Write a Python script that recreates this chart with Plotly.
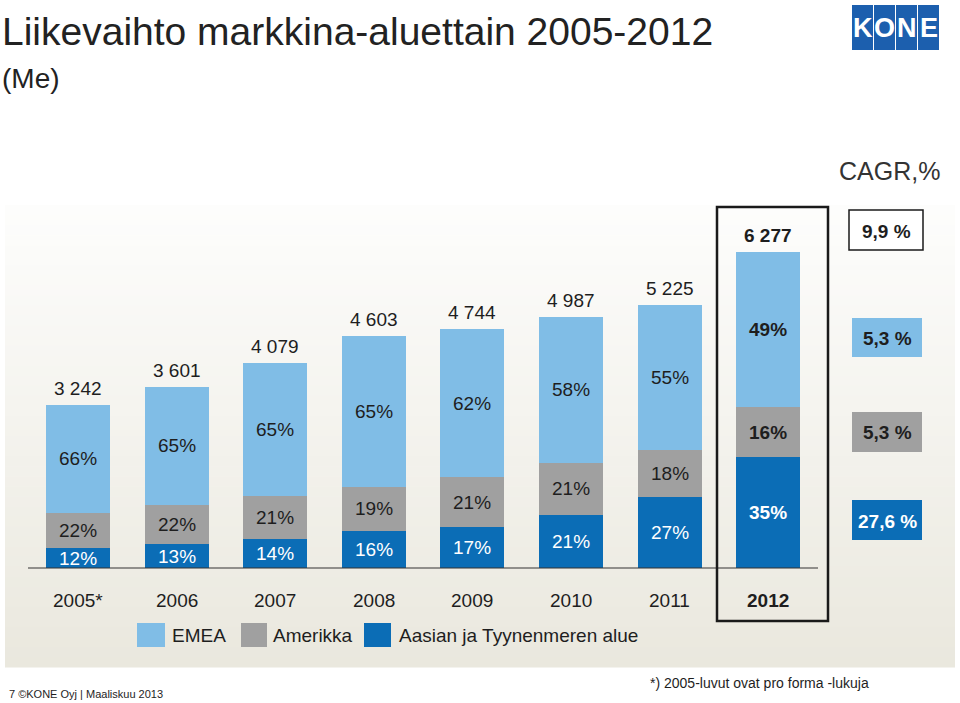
import plotly.graph_objects as go

# ---------------- data ----------------
years = ["2005*", "2006", "2007", "2008", "2009", "2010", "2011", "2012"]
totals = [3242, 3601, 4079, 4603, 4744, 4987, 5225, 6277]
emea_pct = [66, 65, 65, 65, 62, 58, 55, 49]
americas_pct = [22, 22, 21, 19, 21, 21, 18, 16]
apac_pct = [12, 13, 14, 16, 17, 21, 27, 35]
series_names = ["EMEA", "Amerikka", "Aasian ja Tyynenmeren alue"]
cagr_total = "9,9 %"
cagr_labels = ["5,3 %", "5,3 %", "27,6 %"]  # EMEA, Amerikka, Aasia

# ---------------- styles ----------------
W, H = 960, 703
C_EMEA = "#80bde6"
C_AM = "#a0a0a0"
C_AP = "#0b6db6"
TXT = "#1e1e1e"
FONT = "Liberation Sans, Arial, sans-serif"


def px(x):
    return x / W


def py(y):
    return 1 - y / H


def ptext(x, y, text, size, color=TXT, xanchor="center", bold=False):
    return dict(x=px(x), y=py(y), xref="paper", yref="paper", text=text, showarrow=False,
                xanchor=xanchor, yanchor="middle",
                font=dict(family=FONT, size=size, color=color, weight="bold" if bold else "normal"))


x_idx = list(range(len(years)))
apac = [t * p / 100 for t, p in zip(totals, apac_pct)]
am = [t * p / 100 for t, p in zip(totals, americas_pct)]
emea = [t * p / 100 for t, p in zip(totals, emea_pct)]

fig = go.Figure()
bar_w = 0.65
for vals, col, name in [(apac, C_AP, series_names[2]), (am, C_AM, series_names[1]), (emea, C_EMEA, series_names[0])]:
    fig.add_trace(go.Bar(x=x_idx, y=vals, marker=dict(color=col, line=dict(width=0)),
                         width=bar_w, name=name, showlegend=False, hoverinfo="skip"))

annotations = []
shapes = []

# background gradient panel
top, bot = 205, 667
n = 46
c0 = (253, 253, 252)
c1 = (234, 232, 222)
for i in range(n):
    t = i / (n - 1)
    col = tuple(int(round(c0[k] + (c1[k] - c0[k]) * t)) for k in range(3))
    y0 = top + (bot - top) * i / n
    y1 = top + (bot - top) * (i + 1) / n + 0.6
    shapes.append(dict(type="rect", xref="paper", yref="paper", x0=px(5), x1=px(955),
                       y0=py(y1), y1=py(y0), fillcolor="rgb(%d,%d,%d)" % col,
                       line=dict(width=0), layer="below"))

# baseline
shapes.append(dict(type="line", xref="paper", yref="paper", x0=px(28), x1=px(818),
                   y0=py(568), y1=py(568), line=dict(color="#333333", width=1.2)))

# 2012 highlight box
shapes.append(dict(type="rect", xref="paper", yref="paper", x0=px(717), x1=px(828),
                   y0=py(621), y1=py(207), line=dict(color="#1a1a1a", width=2.5),
                   fillcolor="rgba(0,0,0,0)"))

# segment labels and totals
for i, yr in enumerate(years):
    last = (i == len(years) - 1)
    wt = "bold" if last else "normal"
    segs = [(apac[i], apac_pct[i], "white", 0), (am[i], americas_pct[i], TXT, apac[i]),
            (emea[i], emea_pct[i], TXT, apac[i] + am[i])]
    for v, p, col, base in segs:
        annotations.append(dict(x=i, y=base + v / 2, xref="x", yref="y", text=f"{p}%",
                                showarrow=False, xanchor="center", yanchor="middle",
                                font=dict(family=FONT, size=19, color=col, weight=wt)))
    annotations.append(dict(x=i, y=totals[i], xref="x", yref="y",
                            text=f"{totals[i]:,}".replace(",", " "), showarrow=False,
                            xanchor="center", yanchor="bottom", yshift=4,
                            font=dict(family=FONT, size=19, color=TXT, weight=wt)))
    annotations.append(dict(x=i, y=0, xref="x", yref="y", text=yr, showarrow=False,
                            xanchor="center", yanchor="middle", yshift=-32,
                            font=dict(family=FONT, size=19, color=TXT, weight=wt)))

# CAGR
annotations.append(ptext(889, 171, "CAGR,%", 25, color="#333333"))
cagr_boxes = [
    (849, 923, 210, 250, "white", TXT, cagr_total, True),
    (852, 922, 318, 357, C_EMEA, TXT, cagr_labels[0], False),
    (852, 922, 412, 452, C_AM, TXT, cagr_labels[1], False),
    (852, 922, 500, 540, C_AP, "white", cagr_labels[2], False),
]
for x0, x1, y0, y1, fill, tcol, txt, border in cagr_boxes:
    shapes.append(dict(type="rect", xref="paper", yref="paper", x0=px(x0), x1=px(x1),
                       y0=py(y1), y1=py(y0), fillcolor=fill,
                       line=dict(color="#1a1a1a", width=1.5) if border else dict(width=0)))
    annotations.append(ptext((x0 + x1) / 2, (y0 + y1) / 2 + 1, txt, 19, color=tcol, bold=True))

# legend
leg = [(137, 165, C_EMEA, series_names[0], 170), (241, 267, C_AM, series_names[1], 271),
       (364, 391, C_AP, series_names[2], 397)]
for x0, x1, col, name, tx in leg:
    shapes.append(dict(type="rect", xref="paper", yref="paper", x0=px(x0), x1=px(x1),
                       y0=py(647), y1=py(623), fillcolor=col, line=dict(width=0)))
    annotations.append(ptext(tx, 635, name, 19, xanchor="left"))

# title
annotations.append(ptext(0, 32, "Liikevaihto markkina-aluettain 2005-2012", 39, color="#222222", xanchor="left"))
annotations.append(ptext(0, 79, "(Me)", 28, color="#222222", xanchor="left"))

# footers
annotations.append(ptext(648, 683, "*) 2005-luvut ovat pro forma -lukuja", 14, xanchor="left"))
annotations.append(ptext(7, 694, "7 ©KONE Oyj | Maaliskuu 2013", 11, xanchor="left"))

# KONE logo
LOGO = "#1c5fae"
for k, letter in enumerate("KONE"):
    x0 = 852 + k * 22
    shapes.append(dict(type="rect", xref="paper", yref="paper", x0=px(x0), x1=px(x0 + 21),
                       y0=py(50), y1=py(5), fillcolor=LOGO, line=dict(width=0)))
    annotations.append(ptext(x0 + 10.5, 28, letter, 27, color="white", bold=True))

fig.update_layout(
    width=W, height=H,
    margin=dict(l=0, r=0, t=0, b=0),
    paper_bgcolor="white", plot_bgcolor="rgba(0,0,0,0)",
    barmode="stack", bargap=0,
    xaxis=dict(visible=False, range=[-0.791, 8.945], domain=[0, 1]),
    yaxis=dict(visible=False, range=[0, 568 / 0.0503], domain=[135 / 703, 1]),
    shapes=shapes, annotations=annotations, showlegend=False,
)

fig.write_html("out.html")
